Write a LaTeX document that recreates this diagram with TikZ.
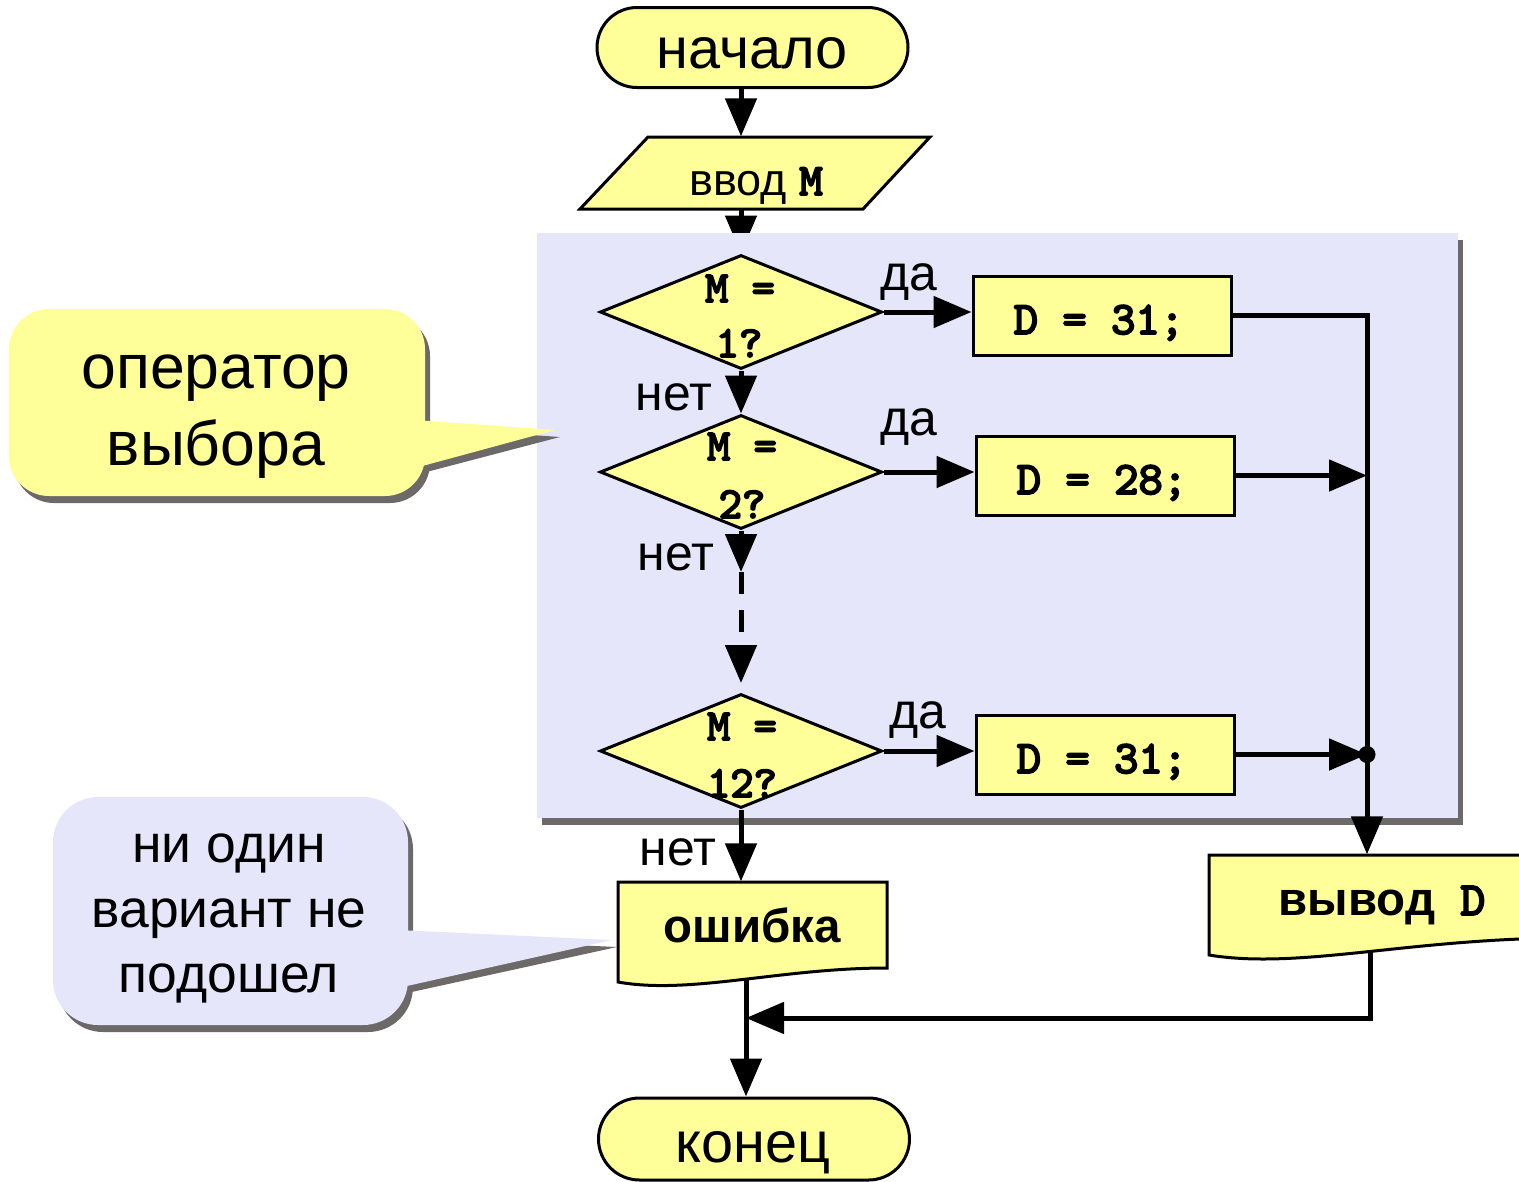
\documentclass[tikz,border=0pt]{standalone}
\usepackage{fontspec}
\setmainfont{Liberation Sans}
\newfontfamily\codefont{lmmono10-regular.otf}[FakeBold=4]
\usetikzlibrary{arrows.meta,shapes.geometric}
\pgfdeclarelayer{under}
\pgfdeclarelayer{panel}
\pgfsetlayers{under,panel,main}

\definecolor{flowyellow}{HTML}{FFFF99}
\definecolor{panelblue}{HTML}{E6E6FA}
\definecolor{shadowgrey}{HTML}{6D6969}

\newcommand\fsz[1]{\fontsize{#1}{1.2\dimexpr#1pt\relax}\selectfont}

\begin{document}
\begin{tikzpicture}[x=0.1mm,y=-0.1mm,
  outline/.style={draw=black,line width=0.3mm,fill=flowyellow},
  term/.style={outline,rectangle,rounded corners=4mm,minimum width=31.1mm,minimum height=8mm,inner sep=0},
  dia/.style={outline,diamond,minimum width=28.2mm,minimum height=11.4mm,inner sep=0},
  assign/.style={outline,rectangle,minimum width=25.8mm,minimum height=7.9mm,inner sep=0},
  ghost/.style={rectangle,inner sep=0},
  txt/.style={anchor=base,inner sep=0},
  termtxt/.style={txt,font=\fsz{16.4}},
  codetxt/.style={txt,font=\codefont\fsz{13.2}},
  qtxt/.style={txt,font=\codefont\fsz{12.6}},
  lbl/.style={txt,font=\fsz{14.2}},
  conn/.style={line width=0.5mm},
  arr/.style={conn,-{Triangle[length=3.8mm,width=3.1mm]}},
]
\useasboundingbox (0,0) rectangle (1519,1182);

% helper coordinates: main column, right-hand bus, joints
\coordinate (col) at (741,0);
\coordinate (bus) at (1367,0);
\coordinate (gap) at (741,572);
\coordinate (d3in) at (741,683);
\coordinate (ebot) at (746,978);
\coordinate (merge) at (746,1018);
\coordinate (outb) at (1370,950);

% start
\node[term] (start) at (752.5,47.5) {};
\node[termtxt] (starttxt) at (752,68) {начало};

% input (parallelogram)
\node[ghost,minimum width=35mm,minimum height=7.2mm] (inp) at (755,173) {};
\draw[outline] (648,137) -- (930,137) -- (863,209) -- (580,209) -- cycle;
\node[txt,font=\fsz{12.8}] (inptxt) at (756,195) {ввод {\codefont M}};

% decisions
\node[dia] (d1) at (741,312) {};
\node[dia] (d2) at (741,472) {};
\node[dia] (d3) at (741,751) {};

% assignments
\node[assign] (b1) at (1102,315.5) {};
\node[assign] (b2) at (1105,475.5) {};
\node[assign] (b3) at (1105,754.5) {};

% error output (document shape)
\node[ghost,minimum width=26.9mm,minimum height=10mm] (err) at (752.5,932) {};
\draw[outline] (618,882) -- (887,882) -- (887,968) .. controls (780,968) and (690,995) .. (618,982) -- cycle;
\node[txt,font=\bfseries\fsz{13.5}] (errtxt) at (752.5,942) {ошибка};

% result output (document shape)
\node[ghost,minimum width=36.1mm,minimum height=10mm] (out) at (1389.5,905) {};
\draw[outline] (1209,855) -- (1570,855) -- (1570,938) .. controls (1410,938) and (1300,970) .. (1209,955) -- cycle;
\node[txt,font=\bfseries\fsz{13.5}] (outtxt) at (1382,915) {вывод\hspace{2.5mm}{\codefont D}};

% end
\node[term,minimum height=8.2mm,rounded corners=4.1mm] (end) at (754,1139) {};
\node[termtxt] (endtxt) at (753,1162) {конец};

% shaded frame of the switch block
\begin{pgfonlayer}{panel}
  \fill[shadowgrey] (542,240) rectangle (1463,825);
  \fill[panelblue] (537,233) rectangle (1458,818);
\end{pgfonlayer}
\begin{pgfonlayer}{under}
  \draw[arr] (inp.south -| col) -- (d1.north);
\end{pgfonlayer}

% texts inside decisions and assignments
\node[qtxt] (q1a) at (740,302) {M =};
\node[qtxt] (q1b) at (739,357) {1?};
\node[qtxt] (q2a) at (742,460) {M =};
\node[qtxt] (q2b) at (742,518) {2?};
\node[qtxt] (q3a) at (742,740) {M =};
\node[qtxt] (q3b) at (742,797) {12?};
\node[codetxt] (a1) at (1099,334) {D = 31;};
\node[codetxt] (a2) at (1102,494) {D = 28;};
\node[codetxt] (a3) at (1102,773) {D = 31;};

% branch labels
\node[lbl] (y1) at (909,290) {да};
\node[lbl] (y2) at (909,435) {да};
\node[lbl] (y3) at (918,728) {да};
\node[lbl] (n1) at (674,410) {нет};
\node[lbl] (n2) at (676,570) {нет};
\node[lbl] (n3) at (678,865) {нет};

% connectors
\draw[arr] (start.south -| col) -- (inp.north -| col);
\draw[arr] (d1.south) -- (d2.north);
\draw[arr] (d2.south) -- (gap);
\draw[arr,dash pattern=on 2.2mm off 1.6mm] (gap) -- (d3in);
\draw[arr] (d3.south) -- (err.north -| d3.south);
\draw[arr] (d1.east) -- (d1.east -| b1.west);
\draw[arr] (d2.east) -- (d2.east -| b2.west);
\draw[arr] (d3.east) -- (d3.east -| b3.west);
\draw[arr] (b1.east) -| (out.north -| bus);
\draw[arr] (b2.east) -- (b2.east -| bus);
\draw[arr] (b3.east) -- (b3.east -| bus);
\fill (b3.east -| bus) circle[radius=0.85mm];
\draw[arr] (outb) |- (merge);
\draw[arr] (ebot) -- (end.north -| ebot);

% callout: switch operator
\fill[shadowgrey,rounded corners=4mm] (14,316) rectangle (430,503);
\fill[shadowgrey] (415,427) -- (560,437) -- (415,475) -- cycle;
\fill[flowyellow,rounded corners=4mm] (9,309) rectangle (425,496);
\fill[flowyellow] (415,420) -- (555,430) -- (415,468) -- cycle;
\node[txt,font=\fsz{17.8}] (c1a) at (216,388) {оператор};
\node[txt,font=\fsz{17.8}] (c1b) at (216,465) {выбора};

% callout: no case matched
\fill[shadowgrey,rounded corners=4.5mm] (58,804) rectangle (413,1032);
\fill[shadowgrey] (398,937) -- (617,947) -- (398,995) -- cycle;
\fill[panelblue,rounded corners=4.5mm] (53,797) rectangle (408,1025);
\fill[panelblue] (398,930) -- (612,940) -- (398,988) -- cycle;
\node[txt,font=\fsz{15.2}] (c2a) at (229,862) {ни один};
\node[txt,font=\fsz{15.2}] (c2b) at (229,927) {вариант не};
\node[txt,font=\fsz{15.2}] (c2c) at (229,992) {подошел};
\end{tikzpicture}
\end{document}
